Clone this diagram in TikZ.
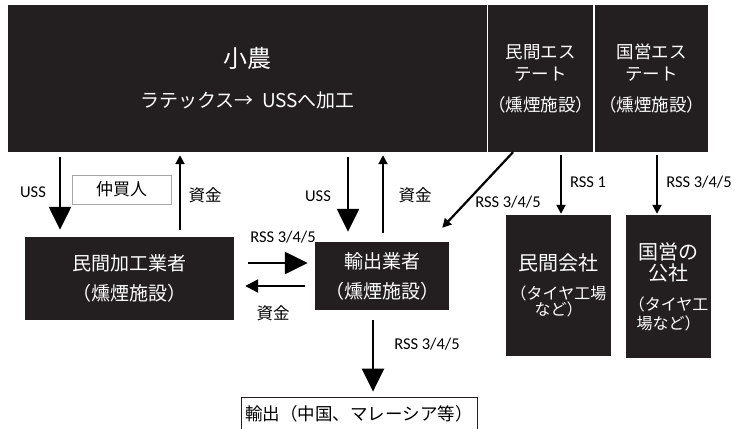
\documentclass[tikz,border=0pt]{standalone}
\usepackage{fontspec}
\setmainfont{Carlito}
\newfontfamily\jp{Noto Sans CJK JP}
\usetikzlibrary{arrows.meta}
\definecolor{boxc}{HTML}{231F20}
\begin{document}
\begin{tikzpicture}[x=1pt,y=-1pt,
		blk/.style={fill=boxc,text=white,inner sep=0pt,align=center},
		bigarr/.style={-{Triangle[width=22pt,length=23pt]},line width=2.5pt},
		midarr/.style={-{Triangle[width=13pt,length=13pt]},line width=2.2pt},
		smallarr/.style={-{Triangle[width=9pt,length=9pt]},line width=2pt},
		lbl/.style={inner sep=0pt,font=\fontsize{16.5}{18}\selectfont},
		jlbl/.style={inner sep=0pt,font=\jp\fontsize{16.5}{18}\selectfont}
	]
	\clip (0,0) rectangle (735,428);
	% upper row
	\node[blk,minimum width=479pt,minimum height=147pt,font=\jp\fontsize{19}{22}\selectfont] (farmer) at (247.5,78.5)
		{{\fontsize{24}{24}\selectfont 小農}\\[18pt]ラテックス→\ \ USSへ加工};
	\node[blk,minimum width=105pt,minimum height=147pt,font=\jp\fontsize{17.5}{22}\selectfont] (pestate) at (540.5,78.5)
		{民間エス\\テート\\[9pt]（燻煙施設）};
	\node[blk,minimum width=113pt,minimum height=147pt,font=\jp\fontsize{17.5}{22}\selectfont] (sestate) at (651.5,78.5)
		{国営エス\\テート\\[9pt]（燻煙施設）};
	% lower row
	\node[blk,minimum width=209pt,minimum height=83pt,font=\jp\fontsize{19}{22}\selectfont] (processor) at (129.5,278.5)
		{民間加工業者\\[8pt]（燻煙施設）};
	\node[blk,minimum width=134pt,minimum height=68pt,font=\jp\fontsize{19}{22}\selectfont] (exporter) at (382,276)
		{輸出業者\\[8pt]（燻煙施設）};
	\node[blk,minimum width=105pt,minimum height=141pt,font=\jp\fontsize{16}{16}\selectfont] (pcompany) at (558.5,285.5)
		{{\fontsize{20}{20}\selectfont 民間会社}\\[13pt]（タイヤ工場\\など）};
	\node[blk,minimum width=85pt,minimum height=143pt,font=\jp\fontsize{16}{19}\selectfont] (scompany) at (668.5,286.5)
		{{\fontsize{20}{20}\selectfont 国営の}\\[2pt]{\fontsize{20}{20}\selectfont 公社}\\[11pt]（タイヤ工\\場など）};
	\node[draw=gray!70,line width=0.8pt,minimum width=99pt,minimum height=29pt,inner sep=0pt,font=\jp\fontsize{17}{18}\selectfont] (broker) at (121.5,189.5) {仲買人};
	\node[draw=boxc,line width=0.8pt,minimum width=236pt,minimum height=34pt,inner sep=0pt,font=\jp\fontsize{17.5}{20}\selectfont] (export) at (359,414) {輸出（中国、マレーシア等）};
	% arrow columns
	\coordinate (c1) at (60,0);
	\coordinate (c2) at (180,0);
	\coordinate (c3) at (348,0);
	\coordinate (c4) at (383,0);
	\coordinate (c5) at (561,0);
	\coordinate (c6) at (657,0);
	\coordinate (c7) at (373,0);
	\coordinate (r1) at (0,263);
	\coordinate (r2) at (0,286);
	\draw[bigarr,shorten <=5pt,shorten >=7pt] (farmer.south -| c1) -- (processor.north -| c1);
	\draw[smallarr,shorten <=7pt,shorten >=3pt] (processor.north -| c2) -- (farmer.south -| c2);
	\draw[bigarr,shorten <=5pt,shorten >=10pt] (farmer.south -| c3) -- (exporter.north -| c3);
	\draw[smallarr,shorten <=9pt,shorten >=3pt] (exporter.north -| c4) -- (farmer.south -| c4);
	\draw[bigarr,shorten <=14pt,shorten >=7pt] (processor.east |- r1) -- (exporter.west |- r1);
	\draw[midarr,shorten <=10pt,shorten >=11pt] (exporter.west |- r2) -- (processor.east |- r2);
	\draw[smallarr,line width=2.2pt] ([xshift=-27.5pt]pestate.south) -- ([xshift=-7pt,yshift=14pt]exporter.north east);
	\draw[smallarr,shorten <=3pt,shorten >=1pt] (pestate.south -| c5) -- (pcompany.north -| c5);
	\draw[smallarr,shorten <=3pt,shorten >=1pt] (sestate.south -| c6) -- (scompany.north -| c6);
	\draw[bigarr,shorten <=10pt,shorten >=5pt] (exporter.south -| c7) -- (export.north -| c7);
	% labels
	\node[lbl] (l1) at (33,192) {USS};
	\node[jlbl] (l2) at (205,195) {資金};
	\node[lbl] (l3) at (318,196) {USS};
	\node[jlbl] (l4) at (415,195) {資金};
	\node[lbl] (l5) at (283,237) {RSS 3/4/5};
	\node[jlbl] (l6) at (273,313) {資金};
	\node[lbl] (l7) at (508,202) {RSS 3/4/5};
	\node[lbl] (l8) at (588,182) {RSS 1};
	\node[lbl] (l9) at (699,182) {RSS 3/4/5};
	\node[lbl] (l10) at (427,344) {RSS 3/4/5};
\end{tikzpicture}
\end{document}
